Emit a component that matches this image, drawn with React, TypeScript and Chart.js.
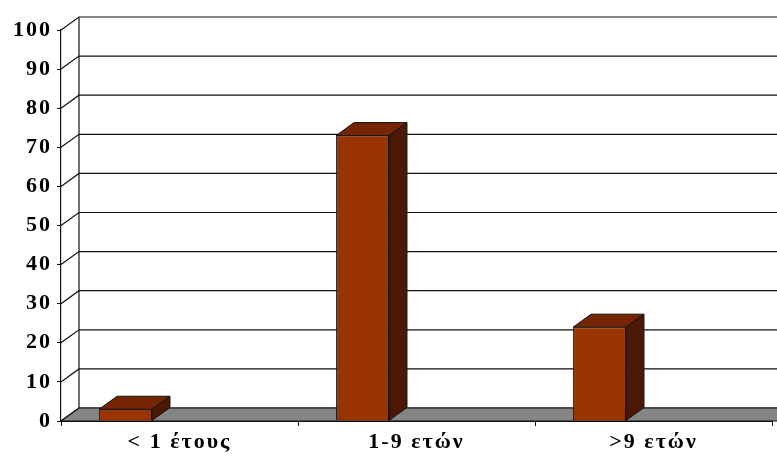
import React, { useEffect, useRef } from 'react';
import { Chart, registerables } from 'chart.js';

Chart.register(...registerables);

const categories = ['< 1 έτους', '1-9 ετών', '>9 ετών'];
const values = [3, 73, 24];
const yMin = 0;
const yMax = 100;
const yStep = 10;

const DX = 18;
const DY = -13;
const FRONT = '#993300';
const TOP = '#762503';
const SIDE = '#4a1803';
const FLOOR = '#858585';
const LINE = '#111';
const FONT = { family: '"Liberation Serif", "Times New Roman", serif', size: 22, weight: 'bold' as const };

const box3d = {
  id: 'box3d',
  beforeDraw(chart: any) {
    chart.ctx.letterSpacing = '2px';
  },
  beforeDatasetsDraw(chart: any) {
    const ctx = chart.ctx;
    ctx.letterSpacing = '0px';
    const { left, bottom } = chart.chartArea;
    const ys = chart.scales.y;
    const W = chart.width;
    ctx.save();
    ctx.strokeStyle = LINE;
    ctx.lineWidth = 1.2;
    ys.ticks.forEach((t: any) => {
      const py = ys.getPixelForValue(t.value);
      ctx.beginPath();
      ctx.moveTo(left, py);
      ctx.lineTo(left + DX, py + DY);
      ctx.lineTo(W + 5, py + DY);
      ctx.stroke();
    });
    const pTop = ys.getPixelForValue(yMax);
    ctx.beginPath();
    ctx.moveTo(left + DX, pTop + DY);
    ctx.lineTo(left + DX, bottom + DY);
    ctx.stroke();
    ctx.beginPath();
    ctx.moveTo(left, bottom);
    ctx.lineTo(left + DX, bottom + DY);
    ctx.lineTo(W + DX + 5, bottom + DY);
    ctx.lineTo(W + 5, bottom);
    ctx.closePath();
    ctx.fillStyle = FLOOR;
    ctx.fill();
    ctx.stroke();
    ctx.restore();
  },
  afterDatasetsDraw(chart: any) {
    const ctx = chart.ctx;
    const meta = chart.getDatasetMeta(0);
    ctx.save();
    ctx.strokeStyle = LINE;
    ctx.lineWidth = 1;
    meta.data.forEach((el: any) => {
      const { x, y, base, width } = el.getProps(['x', 'y', 'base', 'width'], true);
      const l = x - width / 2;
      const r = x + width / 2;
      ctx.beginPath();
      ctx.moveTo(l, y);
      ctx.lineTo(l + DX, y + DY);
      ctx.lineTo(r + DX, y + DY);
      ctx.lineTo(r, y);
      ctx.closePath();
      ctx.fillStyle = TOP;
      ctx.fill();
      ctx.stroke();
      ctx.beginPath();
      ctx.moveTo(r, y);
      ctx.lineTo(r + DX, y + DY);
      ctx.lineTo(r + DX, base + DY);
      ctx.lineTo(r, base);
      ctx.closePath();
      ctx.fillStyle = SIDE;
      ctx.fill();
      ctx.stroke();
    });
    ctx.restore();
  },
};

export default function App() {
  const ref = useRef<HTMLCanvasElement>(null);
  useEffect(() => {
    if (!ref.current) return;
    const chart = new Chart(ref.current, {
      type: 'bar',
      data: {
        labels: categories,
        datasets: [
          {
            data: values,
            backgroundColor: FRONT,
            borderColor: LINE,
            borderWidth: 1,
            categoryPercentage: 0.911,
            barPercentage: 0.49,
          },
          {
            data: categories.map(() => null),
            backgroundColor: 'rgba(0,0,0,0)',
            categoryPercentage: 0.911,
            barPercentage: 0.49,
          },
        ],
      },
      options: {
        responsive: false,
        animation: false,
        devicePixelRatio: 1,
        layout: { padding: { top: 30, right: 5, left: 0, bottom: 0 } },
        plugins: { legend: { display: false }, tooltip: { enabled: false } },
        scales: {
          x: {
            offset: true,
            ticks: { color: '#000', font: FONT, padding: 3, maxRotation: 0, autoSkip: false },
            grid: { offset: true, drawOnChartArea: false, drawTicks: true, tickLength: 5, color: LINE },
            border: { display: true, color: LINE, width: 1 },
            afterFit(s: any) {
              s.height = 36;
            },
          },
          y: {
            min: yMin,
            max: yMax,
            ticks: { stepSize: yStep, color: '#000', font: FONT, padding: 5 },
            grid: { drawOnChartArea: false, drawTicks: true, tickLength: 4, color: LINE },
            border: { display: true, color: LINE, width: 1.2 },
            afterFit(s: any) {
              s.width = 61;
            },
          },
        },
      },
      plugins: [box3d],
    });
    return () => chart.destroy();
  }, []);
  return (
    <div style={{ position: 'fixed', left: 0, top: 0, width: 777, height: 457, background: '#fff' }}>
      <canvas ref={ref} width={777} height={457} />
    </div>
  );
}
